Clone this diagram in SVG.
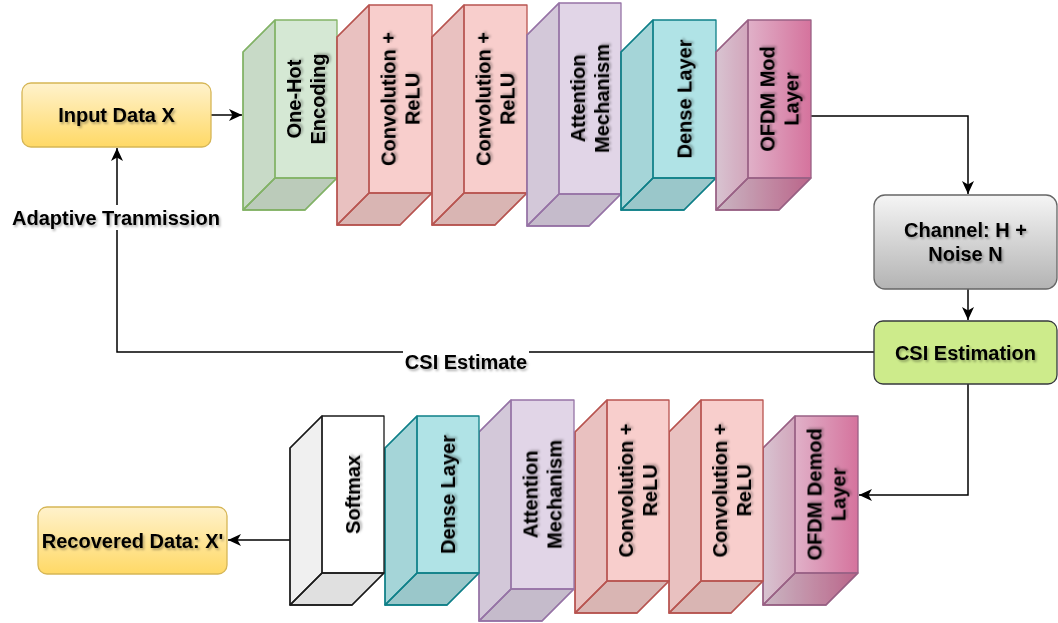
<svg xmlns="http://www.w3.org/2000/svg" width="1058" height="623" viewBox="0 0 1058 623">
<defs>
<style>
text{font-family:"Liberation Sans",Arial,Helvetica,sans-serif;font-weight:bold;font-size:20px;fill:#000;text-anchor:middle}
.t{filter:url(#ts)}
.cube path{stroke-width:1.3;stroke-linejoin:round}
.lf{fill:#000;fill-opacity:.06;stroke:none}
.bf{fill:#000;fill-opacity:.12;stroke:none}
.in{fill:none}
.green path{stroke:#82b366}.green .body{fill:#d5e8d4}
.red path{stroke:#b85450}.red .body{fill:#f8cecc}
.purple path{stroke:#9673a6}.purple .body{fill:#e1d5e7}
.teal path{stroke:#0e8088}.teal .body{fill:#b0e3e6}
.pink path{stroke:#996185}
.white path{stroke:#1a1a1a}.white .body{fill:#fff}
.conn path{fill:none;stroke:#000;stroke-width:1.5}
.box{stroke-width:1.3}
</style>
<filter id="ts" x="-20%" y="-20%" width="140%" height="140%">
<feDropShadow dx="1.5" dy="2" stdDeviation="1.2" flood-color="#000" flood-opacity="0.3"/>
</filter>
<marker id="arr" markerUnits="userSpaceOnUse" markerWidth="13" markerHeight="12" viewBox="0 0 13 12" refX="13" refY="6" orient="auto">
<path d="M0,0 L13,6 L0,12 L3.5,6 Z" fill="#000"/>
</marker>
<linearGradient id="gYellow" x1="0" y1="0" x2="0" y2="1"><stop offset="0" stop-color="#fff2cc"/><stop offset="1" stop-color="#ffd966"/></linearGradient>
<linearGradient id="gGray" x1="0" y1="0" x2="0" y2="1"><stop offset="0" stop-color="#f5f5f5"/><stop offset="1" stop-color="#b3b3b3"/></linearGradient>
<linearGradient id="gMod" gradientUnits="userSpaceOnUse" x1="716" y1="0" x2="811" y2="0"><stop offset="0" stop-color="#e6d0de"/><stop offset="1" stop-color="#d5739d"/></linearGradient>
<linearGradient id="gDemod" gradientUnits="userSpaceOnUse" x1="763" y1="0" x2="858" y2="0"><stop offset="0" stop-color="#e6d0de"/><stop offset="1" stop-color="#d5739d"/></linearGradient>
</defs>

<g id="connectors" class="conn">
<path d="M211,115 H242" marker-end="url(#arr)"/>
<path d="M811,116 H968 V194" marker-end="url(#arr)"/>
<path d="M968,289 V320" marker-end="url(#arr)"/>
<path d="M968,384 V495 H859" marker-end="url(#arr)"/>
<path d="M874,352 H117 V148" marker-end="url(#arr)"/>
<path d="M290,540 H228" marker-end="url(#arr)"/>
<rect x="8" y="205" width="218" height="25" fill="#fff" stroke="none"/>
<text class="t" x="116" y="225">Adaptive Tranmission</text>
<rect x="403" y="347" width="126" height="25" fill="#fff" stroke="none"/>
<text class="t" x="466" y="369">CSI Estimate</text>
</g>

<g id="input-data">
<rect class="box" x="22" y="83" width="189" height="64" rx="9" fill="url(#gYellow)" stroke="#d6b656"/>
<text class="t" x="116.5" y="122">Input Data X</text>
</g>

<g id="onehot" class="cube green">
<path class="body" d="M243,52 L275,20 H337 V178 L305,210 H243 Z"/>
<path class="lf" d="M243,52 L275,20 V178 L243,210 Z"/>
<path class="bf" d="M243,210 L275,178 H337 L305,210 Z"/>
<path class="in" d="M275,20 V178 H337 M275,178 L243,210"/>
<text class="t" transform="translate(306,99) rotate(-90)"><tspan x="0" y="-5">One-Hot</tspan><tspan x="0" y="19">Encoding</tspan></text>
</g>

<g id="conv1-tx" class="cube red">
<path class="body" d="M337,37 L369,5 H432 V193 L400,225 H337 Z"/>
<path class="lf" d="M337,37 L369,5 V193 L337,225 Z"/>
<path class="bf" d="M337,225 L369,193 H432 L400,225 Z"/>
<path class="in" d="M369,5 V193 H432 M369,193 L337,225"/>
<text class="t" transform="translate(400.5,99) rotate(-90)"><tspan x="0" y="-5">Convolution +</tspan><tspan x="0" y="19">ReLU</tspan></text>
</g>

<g id="conv2-tx" class="cube red">
<path class="body" d="M432,37 L464,5 H527 V193 L495,225 H432 Z"/>
<path class="lf" d="M432,37 L464,5 V193 L432,225 Z"/>
<path class="bf" d="M432,225 L464,193 H527 L495,225 Z"/>
<path class="in" d="M464,5 V193 H527 M464,193 L432,225"/>
<text class="t" transform="translate(495.5,99) rotate(-90)"><tspan x="0" y="-5">Convolution +</tspan><tspan x="0" y="19">ReLU</tspan></text>
</g>

<g id="attention-tx" class="cube purple">
<path class="body" d="M527,35 L559,3 H621 V194 L589,226 H527 Z"/>
<path class="lf" d="M527,35 L559,3 V194 L527,226 Z"/>
<path class="bf" d="M527,226 L559,194 H621 L589,226 Z"/>
<path class="in" d="M559,3 V194 H621 M559,194 L527,226"/>
<text class="t" transform="translate(590,98.5) rotate(-90)"><tspan x="0" y="-5">Attention</tspan><tspan x="0" y="19">Mechanism</tspan></text>
</g>

<g id="dense-tx" class="cube teal">
<path class="body" d="M621,52 L653,20 H716 V178 L684,210 H621 Z"/>
<path class="lf" d="M621,52 L653,20 V178 L621,210 Z"/>
<path class="bf" d="M621,210 L653,178 H716 L684,210 Z"/>
<path class="in" d="M653,20 V178 H716 M653,178 L621,210"/>
<text class="t" transform="translate(684.5,99) rotate(-90)"><tspan x="0" y="7">Dense Layer</tspan></text>
</g>

<g id="ofdm-mod" class="cube pink">
<path class="body" fill="url(#gMod)" d="M716,52 L748,20 H811 V178 L779,210 H716 Z"/>
<path class="lf" d="M716,52 L748,20 V178 L716,210 Z"/>
<path class="bf" d="M716,210 L748,178 H811 L779,210 Z"/>
<path class="in" d="M748,20 V178 H811 M748,178 L716,210"/>
<text class="t" transform="translate(779.5,99) rotate(-90)"><tspan x="0" y="-5">OFDM Mod</tspan><tspan x="0" y="19">Layer</tspan></text>
</g>

<g id="channel">
<rect class="box" x="874" y="195" width="183" height="94" rx="11" fill="url(#gGray)" stroke="#666666"/>
<text class="t" x="965.5" y="237">Channel: H +</text>
<text class="t" x="965.5" y="261">Noise N</text>
</g>

<g id="csi-estimation">
<rect class="box" x="874" y="321" width="183" height="63" rx="9" fill="#cdeb8b" stroke="#36393d"/>
<text class="t" x="965.5" y="359.5">CSI Estimation</text>
</g>

<g id="ofdm-demod" class="cube pink">
<path class="body" fill="url(#gDemod)" d="M763,448 L795,416 H858 V573 L826,605 H763 Z"/>
<path class="lf" d="M763,448 L795,416 V573 L763,605 Z"/>
<path class="bf" d="M763,605 L795,573 H858 L826,605 Z"/>
<path class="in" d="M795,416 V573 H858 M795,573 L763,605"/>
<text class="t" transform="translate(826.5,494.5) rotate(-90)"><tspan x="0" y="-5">OFDM Demod</tspan><tspan x="0" y="19">Layer</tspan></text>
</g>

<g id="conv2-rx" class="cube red">
<path class="body" d="M669,432 L701,400 H763 V581 L731,613 H669 Z"/>
<path class="lf" d="M669,432 L701,400 V581 L669,613 Z"/>
<path class="bf" d="M669,613 L701,581 H763 L731,613 Z"/>
<path class="in" d="M701,400 V581 H763 M701,581 L669,613"/>
<text class="t" transform="translate(732,490.5) rotate(-90)"><tspan x="0" y="-5">Convolution +</tspan><tspan x="0" y="19">ReLU</tspan></text>
</g>

<g id="conv1-rx" class="cube red">
<path class="body" d="M575,432 L607,400 H669 V581 L637,613 H575 Z"/>
<path class="lf" d="M575,432 L607,400 V581 L575,613 Z"/>
<path class="bf" d="M575,613 L607,581 H669 L637,613 Z"/>
<path class="in" d="M607,400 V581 H669 M607,581 L575,613"/>
<text class="t" transform="translate(638,490.5) rotate(-90)"><tspan x="0" y="-5">Convolution +</tspan><tspan x="0" y="19">ReLU</tspan></text>
</g>

<g id="attention-rx" class="cube purple">
<path class="body" d="M479,432 L511,400 H574 V589 L542,621 H479 Z"/>
<path class="lf" d="M479,432 L511,400 V589 L479,621 Z"/>
<path class="bf" d="M479,621 L511,589 H574 L542,621 Z"/>
<path class="in" d="M511,400 V589 H574 M511,589 L479,621"/>
<text class="t" transform="translate(542.5,494.5) rotate(-90)"><tspan x="0" y="-5">Attention</tspan><tspan x="0" y="19">Mechanism</tspan></text>
</g>

<g id="dense-rx" class="cube teal">
<path class="body" d="M385,448 L417,416 H479 V573 L447,605 H385 Z"/>
<path class="lf" d="M385,448 L417,416 V573 L385,605 Z"/>
<path class="bf" d="M385,605 L417,573 H479 L447,605 Z"/>
<path class="in" d="M417,416 V573 H479 M417,573 L385,605"/>
<text class="t" transform="translate(448,494.5) rotate(-90)"><tspan x="0" y="7">Dense Layer</tspan></text>
</g>

<g id="softmax" class="cube white">
<path class="body" d="M290,448 L322,416 H384 V573 L352,605 H290 Z"/>
<path class="lf" d="M290,448 L322,416 V573 L290,605 Z"/>
<path class="bf" d="M290,605 L322,573 H384 L352,605 Z"/>
<path class="in" d="M322,416 V573 H384 M322,573 L290,605"/>
<text class="t" transform="translate(353,494.5) rotate(-90)"><tspan x="0" y="7">Softmax</tspan></text>
</g>

<g id="recovered-data">
<rect class="box" x="38" y="507" width="189" height="67" rx="9" fill="url(#gYellow)" stroke="#d6b656"/>
<text class="t" x="132.5" y="547.5">Recovered Data: X'</text>
</g>
</svg>
